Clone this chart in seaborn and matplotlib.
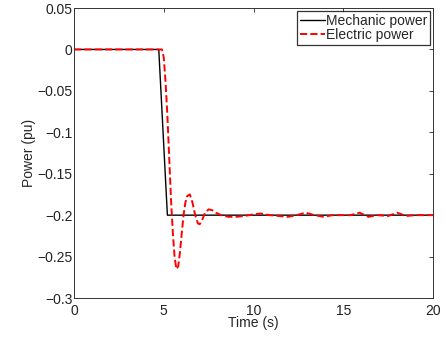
import matplotlib
matplotlib.use("Agg")
import matplotlib.pyplot as plt
import seaborn as sns
import pandas as pd

# Data
mech_t = [0, 4.72, 5.2, 20]
mech_p = [0, 0, -0.2, -0.2]

elec_t = [0, 4.9, 5.0, 5.1, 5.2, 5.3, 5.4, 5.5, 5.6, 5.7, 5.8, 5.9, 6.0, 6.1,
          6.2, 6.3, 6.45, 6.6, 6.75, 6.9, 7.0, 7.15, 7.3, 7.5, 7.7, 7.9, 8.2,
          8.6, 9.0, 9.5, 10.0, 10.4, 10.9, 11.4, 11.9, 12.4, 12.9, 13.4, 13.9,
          14.4, 14.9, 15.4, 15.9, 16.4, 16.9, 17.5, 18.0, 18.5, 19.0, 19.5, 20.0]
elec_p = [0, 0, -0.01, -0.04, -0.08, -0.13, -0.18, -0.22, -0.25, -0.265, -0.262,
          -0.245, -0.222, -0.2, -0.185, -0.177, -0.175, -0.185, -0.2, -0.21,
          -0.211, -0.205, -0.197, -0.193, -0.194, -0.197, -0.2, -0.202, -0.202,
          -0.201, -0.199, -0.198, -0.2, -0.201, -0.202, -0.2, -0.197, -0.2,
          -0.202, -0.2, -0.2, -0.2, -0.197, -0.202, -0.2, -0.201, -0.197, -0.201,
          -0.2, -0.2, -0.2]

x_ticks = [0, 5, 10, 15, 20]
y_ticks = [-0.3, -0.25, -0.2, -0.15, -0.1, -0.05, 0, 0.05]
y_tick_labels = ["\u22120.3", "\u22120.25", "\u22120.2", "\u22120.15", "\u22120.1",
                 "\u22120.05", "0", "0.05"]
series_names = ["Mechanic power", "Electric power"]

sns.set_style("white")
plt.rcParams["font.family"] = ["Liberation Sans", "DejaVu Sans"]
plt.rcParams["font.size"] = 10

fig = plt.figure(figsize=(4.46, 3.37), dpi=100)
ax = fig.add_axes([0.166, 0.1157, 0.805, 0.8605])

mech_df = pd.DataFrame({"t": mech_t, "p": mech_p})
elec_df = pd.DataFrame({"t": elec_t, "p": elec_p})

sns.lineplot(data=mech_df, x="t", y="p", ax=ax, color="black", lw=1.0,
             label=series_names[0], estimator=None, sort=False)
sns.lineplot(data=elec_df, x="t", y="p", ax=ax, color="red", lw=1.4,
             linestyle="--", dashes=(4, 2.5), label=series_names[1],
             estimator=None, sort=False)

ax.set_xlim(0, 20)
ax.set_ylim(-0.3, 0.05)
ax.set_xticks(x_ticks)
ax.set_xticklabels([str(v) for v in x_ticks])
ax.set_yticks(y_ticks)
ax.set_yticklabels(y_tick_labels)
ax.set_xlabel("Time (s)", fontsize=10, labelpad=-1)
ax.set_ylabel("Power (pu)", fontsize=10, labelpad=1)
ax.tick_params(direction="in", length=3, width=0.6, top=True, right=True,
               labelsize=10, colors="#222222")
ax.tick_params(axis="x", pad=4)
ax.tick_params(axis="y", pad=1)
for s in ax.spines.values():
    s.set_color("#333333")
    s.set_linewidth(0.7)

leg = ax.legend(loc="upper right", fontsize=10, frameon=True, fancybox=False,
                borderaxespad=0.2, handlelength=1.8, handletextpad=0.1,
                borderpad=0.2, labelspacing=0.05)
leg.get_frame().set_edgecolor("black")
leg.get_frame().set_linewidth(0.9)

fig.savefig("out.png", dpi=100)
